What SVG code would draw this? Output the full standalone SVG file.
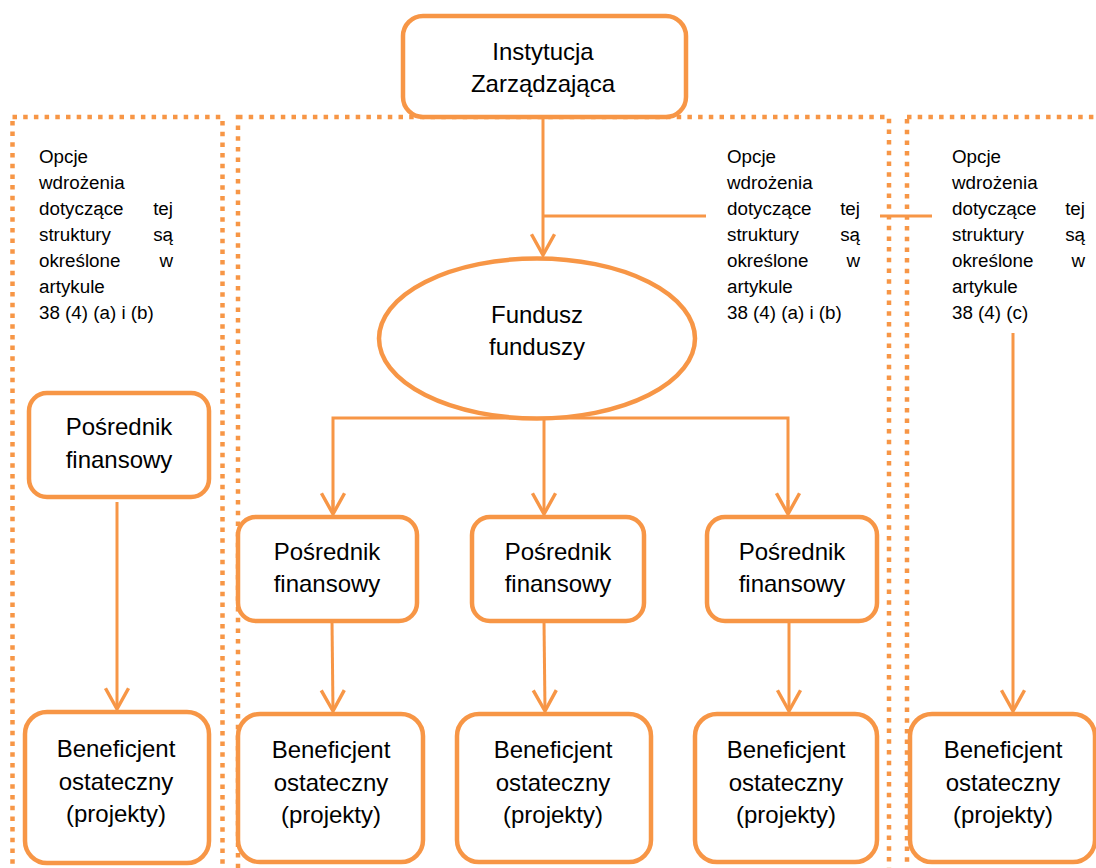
<svg xmlns="http://www.w3.org/2000/svg" width="1096" height="868" viewBox="0 0 1096 868">
<defs>
<style>
.dot{fill:none;stroke:#F79646;stroke-width:4.5;stroke-dasharray:4.5 6.2}
.box{fill:#fff;stroke:#F79646;stroke-width:4.5}
.con{fill:none;stroke:#F79646;stroke-width:3}
.big{font-family:"Liberation Sans",Arial,sans-serif;font-size:24px;fill:#000;text-anchor:middle}
.sm{font-family:"Liberation Sans",Arial,sans-serif;font-size:18.8px;fill:#000}
.end{text-anchor:end}
</style>
<marker id="arr" markerUnits="userSpaceOnUse" markerWidth="30" markerHeight="30" viewBox="-22 -13 26 26" refX="0" refY="0" orient="auto">
<path d="M-18,-10 L0,0 L-18,10" fill="none" stroke="#F79646" stroke-width="3"/>
</marker>
</defs>
<rect width="1096" height="868" fill="#fff"/>

<g id="regions">
<rect class="dot" x="12.5" y="117" width="210" height="800"/>
<rect class="dot" x="238" y="117" width="651" height="800"/>
<rect class="dot" x="907" y="117" width="300" height="800"/>
</g>

<g id="connectors">
<line class="con" x1="543" y1="117" x2="543" y2="255" marker-end="url(#arr)"/>
<line class="con" x1="543" y1="216" x2="706" y2="216"/>
<line class="con" x1="880" y1="216" x2="932" y2="216"/>
<line class="con" x1="544" y1="418" x2="544" y2="514" marker-end="url(#arr)"/>
<polyline class="con" points="333,514 333,418 788,418 788,514"/>
<line class="con" x1="333" y1="500" x2="333" y2="514" marker-end="url(#arr)"/>
<line class="con" x1="788" y1="500" x2="788" y2="514" marker-end="url(#arr)"/>
<line class="con" x1="117" y1="502" x2="117" y2="709" marker-end="url(#arr)"/>
<line class="con" x1="332" y1="621" x2="333" y2="711" marker-end="url(#arr)"/>
<line class="con" x1="544" y1="621" x2="545" y2="711" marker-end="url(#arr)"/>
<line class="con" x1="789" y1="621" x2="789" y2="711" marker-end="url(#arr)"/>
<line class="con" x1="1013" y1="333" x2="1013" y2="711" marker-end="url(#arr)"/>
</g>

<g id="instytucja">
<rect class="box" x="403" y="16" width="283" height="101" rx="20"/>
<text class="big" x="543" y="60">Instytucja</text>
<text class="big" x="543" y="92">Zarządzająca</text>
</g>

<g id="fundusz">
<ellipse class="box" cx="537" cy="338.5" rx="158" ry="80"/>
<text class="big" x="537" y="323">Fundusz</text>
<text class="big" x="537" y="355">funduszy</text>
</g>

<g id="note-left">
<text class="sm" x="39" y="163">Opcje</text>
<text class="sm" x="39" y="189">wdrożenia</text>
<text class="sm" x="39" y="215">dotyczące</text><text class="sm end" x="173" y="215">tej</text>
<text class="sm" x="39" y="241">struktury</text><text class="sm end" x="173" y="241">są</text>
<text class="sm" x="39" y="267">określone</text><text class="sm end" x="173" y="267">w</text>
<text class="sm" x="39" y="293">artykule</text>
<text class="sm" x="39" y="319">38 (4) (a) i (b)</text>
</g>

<g id="note-middle">
<text class="sm" x="727" y="163">Opcje</text>
<text class="sm" x="727" y="189">wdrożenia</text>
<text class="sm" x="727" y="215">dotyczące</text><text class="sm end" x="860" y="215">tej</text>
<text class="sm" x="727" y="241">struktury</text><text class="sm end" x="860" y="241">są</text>
<text class="sm" x="727" y="267">określone</text><text class="sm end" x="860" y="267">w</text>
<text class="sm" x="727" y="293">artykule</text>
<text class="sm" x="727" y="319">38 (4) (a) i (b)</text>
</g>

<g id="note-right">
<text class="sm" x="952" y="163">Opcje</text>
<text class="sm" x="952" y="189">wdrożenia</text>
<text class="sm" x="952" y="215">dotyczące</text><text class="sm end" x="1085" y="215">tej</text>
<text class="sm" x="952" y="241">struktury</text><text class="sm end" x="1085" y="241">są</text>
<text class="sm" x="952" y="267">określone</text><text class="sm end" x="1085" y="267">w</text>
<text class="sm" x="952" y="293">artykule</text>
<text class="sm" x="952" y="319">38 (4) (c)</text>
</g>

<g id="posrednik-left">
<rect class="box" x="29" y="393" width="180" height="104" rx="18"/>
<text class="big" x="119" y="435">Pośrednik</text>
<text class="big" x="119" y="468">finansowy</text>
</g>

<g id="posrednik-1">
<rect class="box" x="238" y="517" width="179" height="104" rx="18"/>
<text class="big" x="327" y="560">Pośrednik</text>
<text class="big" x="327" y="592">finansowy</text>
</g>
<g id="posrednik-2">
<rect class="box" x="472" y="517" width="172" height="104" rx="18"/>
<text class="big" x="558" y="560">Pośrednik</text>
<text class="big" x="558" y="592">finansowy</text>
</g>
<g id="posrednik-3">
<rect class="box" x="707" y="517" width="170" height="104" rx="18"/>
<text class="big" x="792" y="560">Pośrednik</text>
<text class="big" x="792" y="592">finansowy</text>
</g>

<g id="beneficjent-left">
<rect class="box" x="25" y="712" width="184" height="151" rx="22"/>
<text class="big" x="116" y="757">Beneficjent</text>
<text class="big" x="116" y="790">ostateczny</text>
<text class="big" x="116" y="822">(projekty)</text>
</g>
<g id="beneficjent-1">
<rect class="box" x="238" y="714" width="185" height="148" rx="22"/>
<text class="big" x="331" y="758">Beneficjent</text>
<text class="big" x="331" y="791">ostateczny</text>
<text class="big" x="331" y="823">(projekty)</text>
</g>
<g id="beneficjent-2">
<rect class="box" x="457" y="714" width="194" height="148" rx="22"/>
<text class="big" x="553" y="758">Beneficjent</text>
<text class="big" x="553" y="791">ostateczny</text>
<text class="big" x="553" y="823">(projekty)</text>
</g>
<g id="beneficjent-3">
<rect class="box" x="695" y="714" width="182" height="148" rx="22"/>
<text class="big" x="786" y="758">Beneficjent</text>
<text class="big" x="786" y="791">ostateczny</text>
<text class="big" x="786" y="823">(projekty)</text>
</g>
<g id="beneficjent-right">
<rect class="box" x="910" y="714" width="185" height="148" rx="22"/>
<text class="big" x="1003" y="758">Beneficjent</text>
<text class="big" x="1003" y="791">ostateczny</text>
<text class="big" x="1003" y="823">(projekty)</text>
</g>
</svg>
